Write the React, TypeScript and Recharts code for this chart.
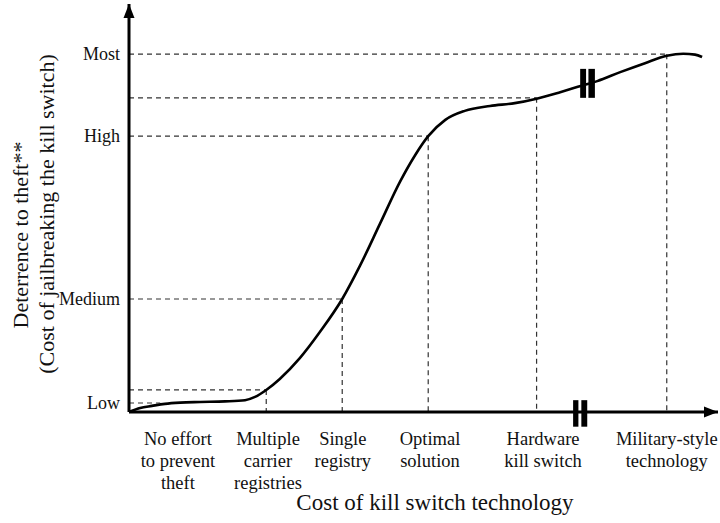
import {
  ComposedChart,
  Line,
  XAxis,
  YAxis,
  ReferenceLine,
  ReferenceArea,
  ReferenceDot,
} from "recharts";

// curve: cost (0-100) vs deterrence (0-100)
const cost = [
  0, 1.9, 3.9, 6.1, 8.7, 12.1, 16.3, 19.7, 21.4, 23.3, 25.6, 29.0, 32.4, 36.2,
  39.2, 42.6, 46.0, 48.6, 50.8, 53.7, 57.0, 61.3, 65.5, 69.2, 73.2, 76.2, 79.5,
  83.4, 87.6, 91.3, 94.1, 96.1, 97.3,
];
const deterrence = [
  0, 1.0, 1.5, 2.0, 2.3, 2.45, 2.6, 2.9, 3.7, 5.4, 8.1, 13.2, 19.6, 27.7, 35.8,
  46.1, 56.4, 63.0, 67.6, 71.6, 73.8, 75.0, 75.7, 76.8, 78.4, 79.7, 81.1, 83.3,
  85.5, 87.3, 87.8, 87.6, 87.0,
];

// x axis category labels
const costTicks = [8.3, 23.6, 36.3, 51.1, 70.3, 91.3];
const costLabels = [
  ["No effort", "to prevent", "theft"],
  ["Multiple", "carrier", "registries"],
  ["Single", "registry"],
  ["Optimal", "solution"],
  ["Hardware", "kill switch"],
  ["Military-style", "technology"],
];

// y axis levels
const levelTicks = [2.2, 27.7, 67.6, 87.7];
const levelLabels = ["Low", "Medium", "High", "Most"];

// dashed guide points on the curve
const guideCost = [5.3, 23.3, 36.2, 50.8, 69.2, 91.3];
const guideLevel = [2.2, 5.4, 27.7, 67.6, 77.0, 87.7];
const guideVertical = [false, true, true, true, true, true];

// axis break positions
const axisBreak = { x1: 75.4, x2: 77.8, gap1: 76.3, gap2: 76.8, y1: -3.6, y2: 2.9 };
const curveBreak = { x1: 76.6, x2: 79.1, gap1: 77.6, gap2: 78.0, y1: 77.0, y2: 84.1 };

const data = cost.map((c, i) => ({ cost: c, deterrence: deterrence[i] }));

const FONT = "'Liberation Serif', 'DejaVu Serif', serif";
const INK = "#111";

const CostTick = (props: any) => {
  const { x, y, payload } = props;
  const idx = costTicks.indexOf(payload.value);
  const lines = costLabels[idx] || [];
  return (
    <g>
      {lines.map((line, i) => (
        <text
          key={i}
          x={x}
          y={y + 25 + i * 22}
          textAnchor="middle"
          fontFamily={FONT}
          fontSize={18.5}
          fill={INK}
        >
          {line}
        </text>
      ))}
    </g>
  );
};

const LevelTick = (props: any) => {
  const { x, y, payload } = props;
  const idx = levelTicks.indexOf(payload.value);
  return (
    <text
      x={x - 1}
      y={y}
      dy="0.35em"
      textAnchor="end"
      fontFamily={FONT}
      fontSize={18}
      fill={INK}
    >
      {levelLabels[idx]}
    </text>
  );
};

const YTitle = () => (
  <g>
    <text
      x={20}
      y={235}
      transform="rotate(-90 20 235)"
      textAnchor="middle"
      dy="0.35em"
      fontFamily={FONT}
      fontSize={22}
      fill={INK}
    >
      Deterrence to theft**
    </text>
    <text
      x={46}
      y={214}
      transform="rotate(-90 46 214)"
      textAnchor="middle"
      dy="0.35em"
      fontFamily={FONT}
      fontSize={22}
      fill={INK}
    >
      (Cost of jailbreaking the kill switch)
    </text>
  </g>
);

const XTitle = () => (
  <text x={435} y={510} textAnchor="middle" fontFamily={FONT} fontSize={23} fill={INK}>
    Cost of kill switch technology
  </text>
);

const UpArrow = (props: any) => {
  const { cx, cy } = props;
  return <path d={`M${cx},${cy} L${cx - 5.5},${cy + 14} L${cx + 5.5},${cy + 14} Z`} fill="#000" />;
};

const RightArrow = (props: any) => {
  const { cx, cy } = props;
  return <path d={`M${cx},${cy} L${cx - 14},${cy - 5.5} L${cx - 14},${cy + 5.5} Z`} fill="#000" />;
};

const dash = { stroke: "#333", strokeWidth: 1.2, strokeDasharray: "5 4" };

export default function App() {
  return (
    <div style={{ position: "absolute", left: 0, top: 0, width: 720, height: 523, background: "#fff" }}>
      <ComposedChart
        width={720}
        height={523}
        data={data}
        margin={{ top: 4, right: 2, bottom: 0, left: 0 }}
      >
        <XAxis
          dataKey="cost"
          type="number"
          domain={[0, 100]}
          ticks={costTicks}
          tick={<CostTick />}
          tickLine={false}
          axisLine={{ stroke: "#000", strokeWidth: 3 }}
          height={111}
          interval={0}
          allowDataOverflow
          label={{ content: () => <XTitle /> }}
        />
        <YAxis
          type="number"
          domain={[0, 100]}
          ticks={levelTicks}
          tick={<LevelTick />}
          tickLine={false}
          axisLine={{ stroke: "#000", strokeWidth: 3 }}
          width={129}
          interval={0}
          allowDataOverflow
          label={{ content: () => <YTitle /> }}
        />

        {guideCost.map((c, i) => (
          <ReferenceLine
            key={`h${i}`}
            segment={[
              { x: 0, y: guideLevel[i] },
              { x: c, y: guideLevel[i] },
            ]}
            {...dash}
            ifOverflow="visible"
          />
        ))}
        {guideCost.map((c, i) =>
          guideVertical[i] ? (
            <ReferenceLine
              key={`v${i}`}
              segment={[
                { x: c, y: guideLevel[i] },
                { x: c, y: 0 },
              ]}
              {...dash}
              ifOverflow="visible"
            />
          ) : null
        )}

        <Line
          dataKey="deterrence"
          type="monotone"
          stroke="#000"
          strokeWidth={2.6}
          dot={false}
          activeDot={false}
          isAnimationActive={false}
        />

        {[axisBreak, curveBreak].map((b, i) => (
          <ReferenceArea
            key={`b${i}`}
            x1={b.x1}
            x2={b.x2}
            y1={b.y1}
            y2={b.y2}
            fill="#000"
            fillOpacity={1}
            stroke="none"
            ifOverflow="visible"
          />
        ))}
        {[axisBreak, curveBreak].map((b, i) => (
          <ReferenceArea
            key={`g${i}`}
            x1={b.gap1}
            x2={b.gap2}
            y1={b.y1 - 1}
            y2={b.y2 + 1}
            fill="#fff"
            fillOpacity={1}
            stroke="none"
            ifOverflow="visible"
          />
        ))}

        <ReferenceDot x={0} y={100} r={0} shape={<UpArrow />} ifOverflow="visible" />
        <ReferenceDot x={100} y={0} r={0} shape={<RightArrow />} ifOverflow="visible" />
      </ComposedChart>
    </div>
  );
}
